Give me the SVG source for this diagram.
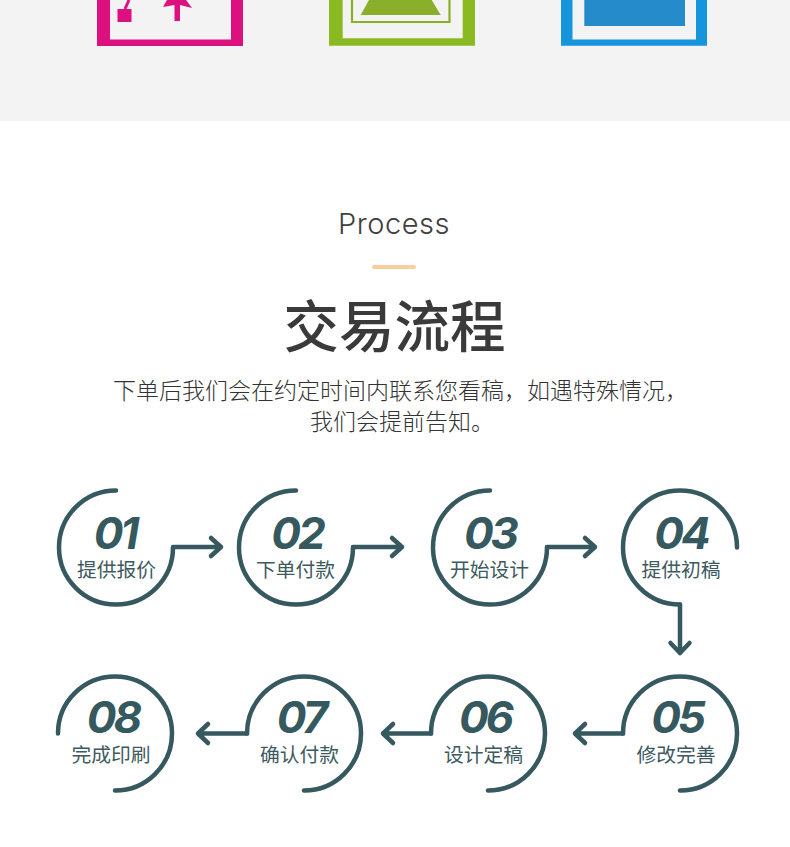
<svg xmlns="http://www.w3.org/2000/svg" width="790" height="847" viewBox="0 0 790 847">
<style>
.cn{font-family:"Noto Sans CJK SC","Noto Sans",sans-serif}
.ring{fill:none;stroke:#35595f;stroke-width:4.5;stroke-linecap:round;stroke-linejoin:round}
.num{font-family:Inter,"Liberation Sans",sans-serif;font-style:italic;font-weight:700;font-size:44px;letter-spacing:-3px;fill:#35595f;text-anchor:middle}
.lab{font-family:"Noto Sans CJK SC",sans-serif;font-size:19.8px;fill:#3d5a60;text-anchor:middle}
</style>
<rect width="790" height="847" fill="#ffffff"/>
<rect width="790" height="121" fill="#f3f3f3"/>
<g id="icon-pink">
<path fill-rule="evenodd" d="M97 0H243V46H97ZM110 0V39.500H231V0Z" fill="#dd107f"/>
<rect x="117.500" y="9" width="14" height="13" fill="#dd107f"/>
<path d="M125 9L129 0" stroke="#dd107f" stroke-width="3" fill="none"/>
<path d="M167 0L163 7 174.500 5V21H180V5L192 8 186 0Z" fill="#dd107f"/>
</g>
<g id="icon-green">
<path fill-rule="evenodd" d="M329 0H475V45.700H329ZM342.700 0V38.300H462.700V0Z" fill="#8ab922"/>
<path d="M352 0V22H449.500V0" fill="none" stroke="#8aaf2a" stroke-width="2.200"/>
<path d="M369 0H431.700L440.700 15H360.700Z" fill="#8aaf2a"/>
</g>
<g id="icon-blue">
<path fill-rule="evenodd" d="M561 0H707V45.700H561ZM572.500 0V39.500H696V0Z" fill="#1695dc"/>
<rect x="584.300" y="0" width="100.700" height="26" fill="#258bcb"/>
</g>
<g id="heading">
<text x="394" y="234" font-family="Inter,sans-serif" font-weight="300" font-size="29px" letter-spacing="0.500" fill="#404040" text-anchor="middle">Process</text>
<rect x="372" y="265" width="44" height="4" rx="2" fill="#f8cf9c"/>
<text x="394.500" y="347" class="cn" font-size="55.500px" font-weight="500" fill="#3a3a3a" text-anchor="middle">交易流程</text>
<text x="113" y="399" class="cn" font-size="23px" font-weight="300" fill="#333">下单后我们会在约定时间内联系您看稿，如遇特殊情况，</text>
<text x="310" y="430" class="cn" font-size="23px" font-weight="300" fill="#333">我们会提前告知。</text>
</g>
<g id="connectors">
<path class="ring" d="M173 547H221M211 538L221 547 211 556"/>
<path class="ring" d="M353 547H402M392 538L402 547 392 556"/>
<path class="ring" d="M547 547H595M585 538L595 547 585 556"/>
<path class="ring" d="M680 604.500V653M670.500 643L680 653 689.500 643"/>
<path class="ring" d="M623 733.500H575M585 724L575 733.500 585 743"/>
<path class="ring" d="M431 733.500H383M393 724L383 733.500 393 743"/>
<path class="ring" d="M247 733.500H198M208 724L198 733.500 208 743"/>
</g>
<g id="node-01"><path class="ring" d="M116 490.500A57 57 0 1 0 173 547.500"/><text class="num" x="115" y="549">01</text><text class="lab" x="116.500" y="577">提供报价</text></g>
<g id="node-02"><path class="ring" d="M296 490.500A57 57 0 1 0 353 547.500"/><text class="num" x="297" y="549">02</text><text class="lab" x="295.500" y="577">下单付款</text></g>
<g id="node-03"><path class="ring" d="M490 490.500A57 57 0 1 0 547 547.500"/><text class="num" x="490" y="549">03</text><text class="lab" x="489.500" y="577">开始设计</text></g>
<g id="node-04"><path class="ring" d="M737 547.500A57 57 0 1 0 680 604.500"/><text class="num" x="681" y="549">04</text><text class="lab" x="681" y="577">提供初稿</text></g>
<g id="node-05"><path class="ring" d="M623 733.500A57 57 0 1 1 680 790.500"/><text class="num" x="677" y="733">05</text><text class="lab" x="676" y="762">修改完善</text></g>
<g id="node-06"><path class="ring" d="M431 733.500A57 57 0 1 1 488 790.500"/><text class="num" x="485" y="733">06</text><text class="lab" x="483.500" y="762">设计定稿</text></g>
<g id="node-07"><path class="ring" d="M247 733.500A57 57 0 1 1 304 790.500"/><text class="num" x="301" y="733">07</text><text class="lab" x="299.500" y="762">确认付款</text></g>
<g id="node-08"><path class="ring" d="M58 733.500A57 57 0 1 1 115 790.500"/><text class="num" x="113" y="733">08</text><text class="lab" x="111" y="762">完成印刷</text></g>
</svg>
